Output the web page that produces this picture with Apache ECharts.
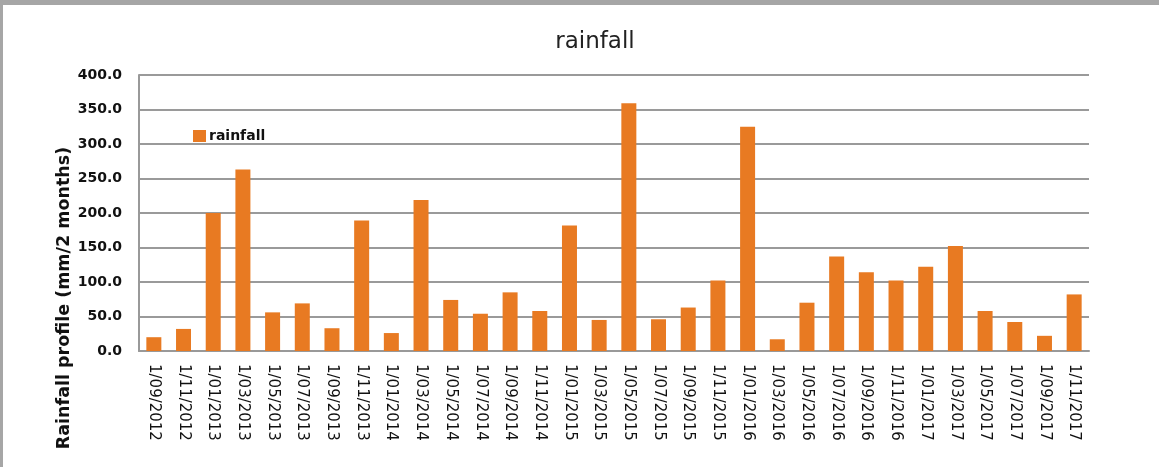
<!DOCTYPE html>
<html>
<head>
<meta charset="utf-8">
<script src="https://cdn.jsdelivr.net/npm/echarts@6/dist/echarts.min.js"></script>
<style>
  html, body { margin: 0; padding: 0; background: #fff; }
  #wrap { position: absolute; left: 0; top: 0; width: 1159px; height: 467px; box-sizing: border-box;
          border-top: 5px solid #a6a6a6; border-left: 3px solid #a6a6a6; }
  #chart { position: absolute; left: -3px; top: -5px; width: 1159px; height: 467px; }
</style>
</head>
<body>
<div id="wrap"><div id="chart"></div></div>
<script>
const categories = [
  '1/09/2012','1/11/2012',
  '1/01/2013','1/03/2013','1/05/2013','1/07/2013','1/09/2013','1/11/2013',
  '1/01/2014','1/03/2014','1/05/2014','1/07/2014','1/09/2014','1/11/2014',
  '1/01/2015','1/03/2015','1/05/2015','1/07/2015','1/09/2015','1/11/2015',
  '1/01/2016','1/03/2016','1/05/2016','1/07/2016','1/09/2016','1/11/2016',
  '1/01/2017','1/03/2017','1/05/2017','1/07/2017','1/09/2017','1/11/2017'
];
const rainfall = [
  20, 32,
  200, 263, 56, 69, 33, 189,
  26, 219, 74, 54, 85, 58,
  182, 45, 359, 46, 63, 102,
  325, 17, 70, 137, 114, 102,
  122, 152, 58, 42, 22, 82
];
const seriesName = 'rainfall';
const titleText = 'rainfall';
const yAxisTitle = 'Rainfall profile (mm/2 months)';

const chart = echarts.init(document.getElementById('chart'), null, { renderer: 'canvas' });
const font = '"DejaVu Sans", "Liberation Sans", sans-serif';
chart.setOption({
  animation: false,
  backgroundColor: 'transparent',
  textStyle: { fontFamily: font },
  title: {
    text: titleText,
    left: 590, top: 26, textAlign: 'center',
    textStyle: { fontFamily: font, fontSize: 23, fontWeight: 'normal', color: '#222' }
  },
  legend: {
    data: [seriesName],
    left: 193, top: 129, padding: 0,
    icon: 'rect', itemWidth: 13, itemHeight: 12, itemGap: 5,
    textStyle: { fontFamily: font, fontSize: 14, fontWeight: 'bold', color: '#111', padding: [0, 0, 0, -2] }
  },
  grid: { left: 139, right: 70, top: 75, bottom: 116, containLabel: false },
  xAxis: {
    type: 'category',
    data: categories,
    axisLine: { show: true, lineStyle: { color: '#999', width: 2 } },
    axisTick: { show: false },
    axisLabel: { interval: 0, rotate: -90, margin: 13, fontFamily: font, fontSize: 15, color: '#111' }
  },
  yAxis: {
    type: 'value',
    min: 0, max: 400, interval: 50,
    axisLine: { show: true, lineStyle: { color: '#999', width: 2 } },
    axisTick: { show: false },
    splitLine: { show: true, lineStyle: { color: '#9a9a9a', width: 2 } },
    axisLabel: {
      margin: 17, fontFamily: font, fontSize: 14, fontWeight: 'bold', color: '#111',
      formatter: v => v.toFixed(1)
    }
  },
  graphic: [{
    type: 'text',
    x: 64, y: 298,
    rotation: Math.PI / 2,
    style: {
      text: yAxisTitle,
      textAlign: 'center', textVerticalAlign: 'middle',
      font: 'bold 17.5px ' + font, fill: '#111'
    }
  }],
  series: [{
    name: seriesName,
    type: 'bar',
    data: rainfall,
    barWidth: 15,
    itemStyle: { color: '#E87A22' }
  }]
});
</script>
</body>
</html>
